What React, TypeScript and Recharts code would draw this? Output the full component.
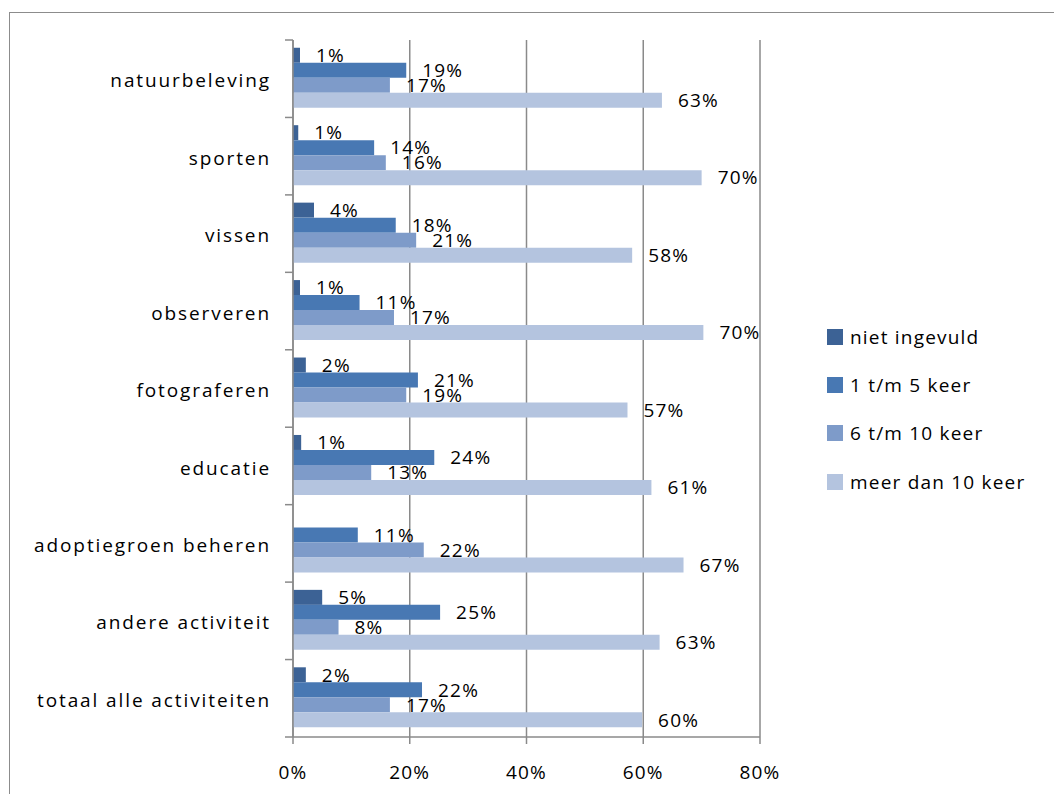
import React from 'react';
import { BarChart, Bar, XAxis, YAxis, CartesianGrid, LabelList } from 'recharts';

const categories = [
  'natuurbeleving',
  'sporten',
  'vissen',
  'observeren',
  'fotograferen',
  'educatie',
  'adoptiegroen beheren',
  'andere activiteit',
  'totaal alle activiteiten',
];
const nietIngevuld: (number | null)[] = [1.2, 0.9, 3.6, 1.2, 2.2, 1.4, null, 5.0, 2.2];
const keer1tot5 = [19.4, 13.9, 17.6, 11.4, 21.4, 24.2, 11.1, 25.2, 22.1];
const keer6tot10 = [16.6, 15.9, 21.1, 17.3, 19.4, 13.4, 22.4, 7.8, 16.6];
const meerDan10 = [63.2, 70.0, 58.1, 70.3, 57.3, 61.4, 66.9, 62.8, 59.8];
const seriesNames = ['niet ingevuld', '1 t/m 5 keer', '6 t/m 10 keer', 'meer dan 10 keer'];
const seriesColors = ['#3C6295', '#4878B3', '#7E9BC9', '#B4C4DF'];
const xTicks = [0, 20, 40, 60, 80];

const data = categories.map((name, i) => ({
  name,
  s0: nietIngevuld[i],
  s1: keer1tot5[i],
  s2: keer6tot10[i],
  s3: meerDan10[i],
}));

const FONT = '"Open Sans", "Liberation Sans", sans-serif';
const GRAY = '#8a8a8a';
const W = 1054;
const H = 794;
const X_HEIGHT = 57;
const MARGIN = { top: 40, right: 294, bottom: 0, left: 0 };
const Y_WIDTH = 293;
const AXIS_X = MARGIN.left + Y_WIDTH;
const PLOT_H = H - MARGIN.top - MARGIN.bottom - X_HEIGHT;

const fmt = (v: any) => (v === null || v === undefined ? '' : `${Math.round(Number(v))}%`);

const CatTick = (props: any) => {
  const { y, payload, index } = props;
  const band = PLOT_H / categories.length;
  const top = y - band / 2;
  const bottom = y + band / 2;
  return (
    <g>
      <line x1={AXIS_X - 8} x2={AXIS_X} y1={top} y2={top} stroke={GRAY} strokeWidth={1.5} />
      {index === categories.length - 1 && (
        <line x1={AXIS_X - 8} x2={AXIS_X} y1={bottom} y2={bottom} stroke={GRAY} strokeWidth={1.5} />
      )}
      <text
        x={AXIS_X - 22}
        y={y + 2}
        dy="0.35em"
        textAnchor="end"
        fill="#000"
        fontSize={19}
        fontFamily={FONT}
        letterSpacing={1.9}
      >
        {payload.value}
      </text>
    </g>
  );
};

const LegendBox = () => (
  <div
    style={{
      position: 'absolute',
      left: 827,
      top: 312.5,
      width: 227,
      fontFamily: FONT,
      fontSize: 19,
      color: '#000',
    }}
  >
    {seriesNames.map((n, i) => (
      <div key={n} style={{ height: 48.3, display: 'flex', alignItems: 'center' }}>
        <div style={{ width: 16, height: 16, background: seriesColors[i], marginRight: 7, flex: 'none' }} />
        <span style={{ letterSpacing: 1.2, whiteSpace: 'nowrap' }}>{n}</span>
      </div>
    ))}
  </div>
);

const labelProps = {
  position: 'right' as const,
  offset: 16,
  formatter: fmt,
  fill: '#000',
  fontSize: 19,
  fontFamily: FONT,
  letterSpacing: 1.2,
};

export default function App() {
  return (
    <div style={{ position: 'absolute', left: 0, top: 0, width: W, height: H, overflow: 'hidden', background: '#fff' }}>
      <div
        style={{
          position: 'absolute',
          left: 9,
          top: 12,
          width: 1200,
          height: 1000,
          border: '1.5px solid #8c8c8c',
        }}
      />
      <div style={{ position: 'absolute', left: 0, top: 0 }}>
        <BarChart
          layout="vertical"
          width={W}
          height={H}
          data={data}
          margin={MARGIN}
          barCategoryGap="10%"
          barGap={0}
        >
          <CartesianGrid horizontal={false} vertical={true} stroke={GRAY} strokeWidth={1.5} />
          <XAxis
            type="number"
            domain={[0, 80]}
            ticks={xTicks}
            tickFormatter={(v: number) => `${v}%`}
            height={X_HEIGHT}
            tickSize={7}
            tickMargin={22}
            axisLine={{ stroke: GRAY, strokeWidth: 1.5 }}
            tickLine={{ stroke: GRAY, strokeWidth: 1.5 }}
            tick={{ fill: '#000', fontSize: 19, fontFamily: FONT, letterSpacing: 1.2 } as any}
          />
          <YAxis
            type="category"
            dataKey="name"
            width={Y_WIDTH}
            interval={0}
            tickLine={false}
            axisLine={{ stroke: GRAY, strokeWidth: 1.5 }}
            tick={(p: any) => <CatTick {...p} />}
          />
          <Bar dataKey="s0" name={seriesNames[0]} fill={seriesColors[0]} isAnimationActive={false}>
            <LabelList dataKey="s0" {...labelProps} />
          </Bar>
          <Bar dataKey="s1" name={seriesNames[1]} fill={seriesColors[1]} isAnimationActive={false}>
            <LabelList dataKey="s1" {...labelProps} />
          </Bar>
          <Bar dataKey="s2" name={seriesNames[2]} fill={seriesColors[2]} isAnimationActive={false}>
            <LabelList dataKey="s2" {...labelProps} />
          </Bar>
          <Bar dataKey="s3" name={seriesNames[3]} fill={seriesColors[3]} isAnimationActive={false}>
            <LabelList dataKey="s3" {...labelProps} />
          </Bar>
        </BarChart>
      </div>
      <LegendBox />
    </div>
  );
}
